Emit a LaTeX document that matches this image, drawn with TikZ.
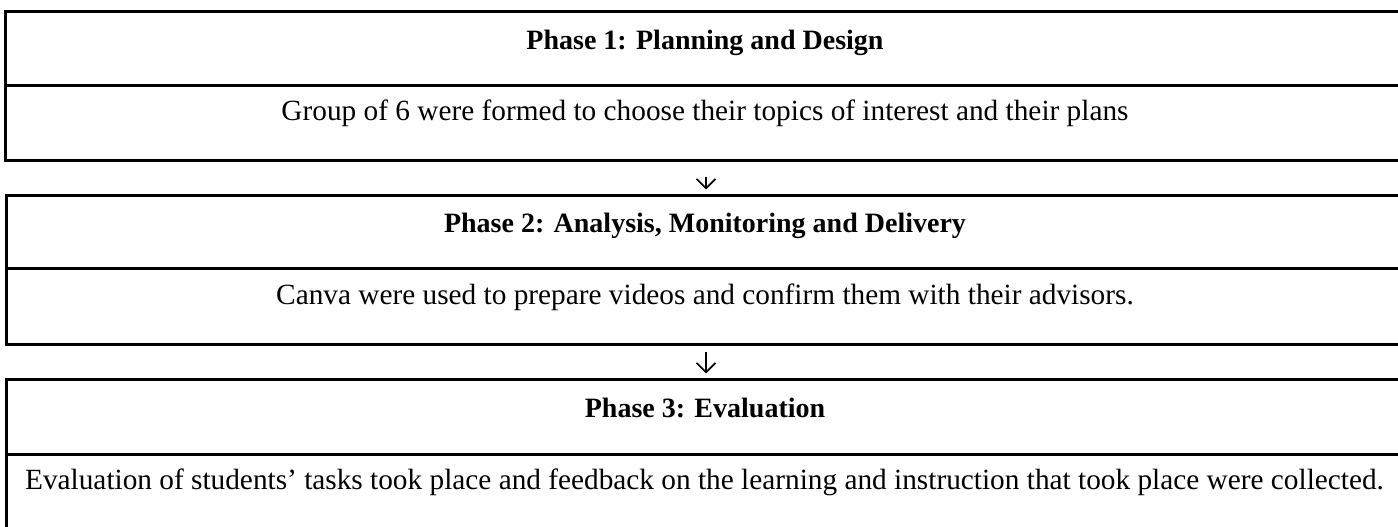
\documentclass[tikz,border=0pt]{standalone}
\usepackage{fontspec}
\setmainfont{Liberation Serif}
\usetikzlibrary{positioning,arrows.meta}
\tikzset{
  rowline/.style={line width=3pt},
  headtext/.style={font=\fontsize{28}{32}\selectfont\bfseries, anchor=base, inner sep=0pt},
  bodytext/.style={font=\fontsize{29.3}{33}\selectfont, anchor=base, inner sep=0pt},
  flowarrow/.style={line width=1.6pt, -{Straight Barb[length=9.5pt,width=19pt]}},
}

\begin{document}
\begin{tikzpicture}[x=1pt,y=-1pt]
\useasboundingbox (0,0) rectangle (1398,527);
% Phase 1
\draw[rowline] (1402,11.5) -- (5.5,11.5) -- (5.5,160.5) -- (1402,160.5);
\draw[rowline] (5.5,85.5) -- (1402,85.5);
\node[headtext] (p1head) at (705,49.3) {Phase 1: Planning and Design};
\node[bodytext] (p1body) at (705,120.7) {Group of 6 were formed to choose their topics of interest and their plans};
% arrow 1
\coordinate (a1top) at (706,176.5);
\coordinate (a1tip) at (706,189.5);
\draw[flowarrow] (a1top) -- (a1tip);
% Phase 2
\draw[rowline] (1402,195) -- (6.5,195) -- (6.5,344.5) -- (1402,344.5);
\draw[rowline] (6.5,268) -- (1402,268);
\node[headtext] (p2head) at (705,232) {Phase 2: Analysis, Monitoring and Delivery};
\node[bodytext] (p2body) at (705,304) {Canva were used to prepare videos and confirm them with their advisors.};
% arrow 2
\coordinate (a2top) at (706,352.3);
\coordinate (a2tip) at (706,373.5);
\draw[flowarrow] (a2top) -- (a2tip);
% Phase 3
\draw[rowline] (1402,379.5) -- (6.5,379.5) -- (6.5,530);
\draw[rowline] (6.5,454.5) -- (1402,454.5);
\node[headtext] (p3head) at (705,417) {Phase 3: Evaluation};
\node[bodytext] (p3body) at (704.5,489.3) {Evaluation of students’ tasks took place and feedback on the learning and instruction that took place were collected.};
\end{tikzpicture}
\end{document}
